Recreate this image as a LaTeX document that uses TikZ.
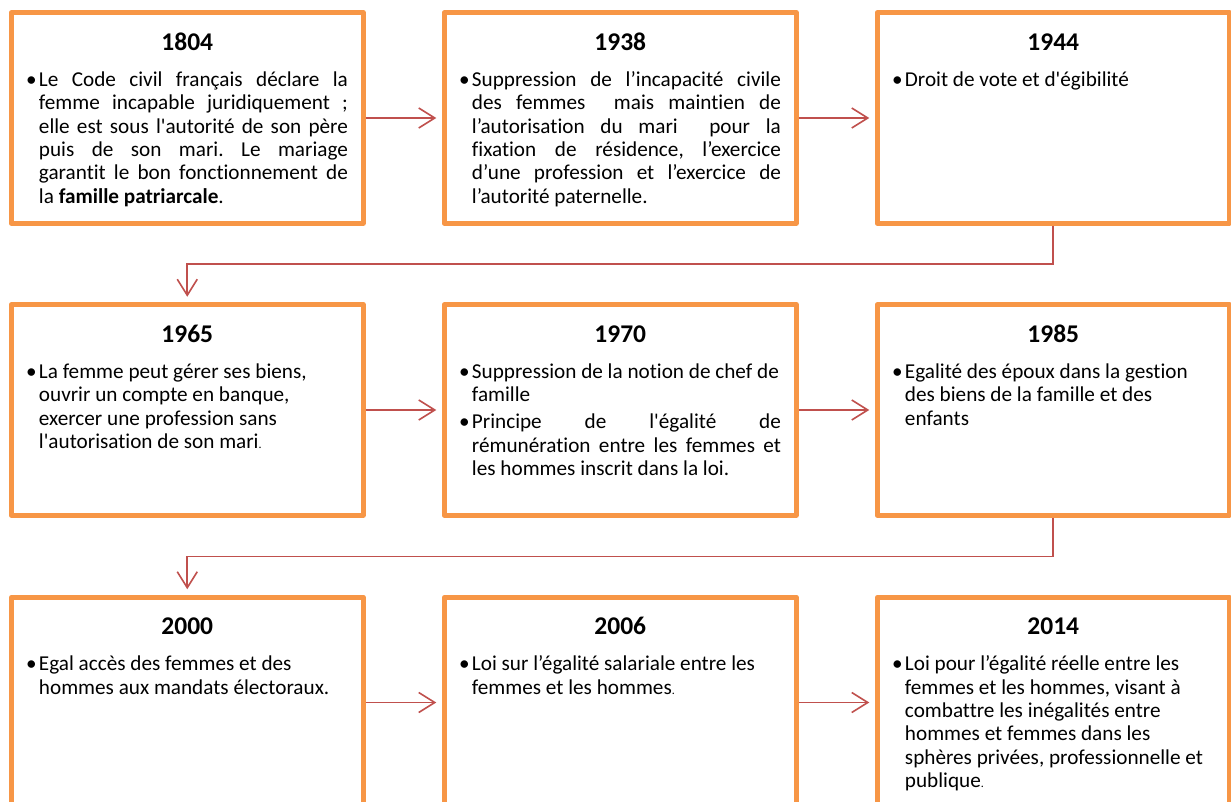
\documentclass[tikz,border=0pt]{standalone}
\usepackage{fontspec}
\newfontfamily\carlito{Carlito}[Ligatures={NoCommon}]
\usetikzlibrary{arrows.meta}
\definecolor{boxorange}{HTML}{F79646}
\definecolor{arrred}{HTML}{C0504D}
\newcommand{\bodyfont}{\fontsize{21.2}{23.4}\selectfont}
\newcommand{\yearfont}{\fontsize{25.5}{28}\selectfont\bfseries}
\newlength{\bulhang}\setlength{\bulhang}{12.8pt}
\newcommand{\bitem}[1]{\hangindent=\bulhang\hangafter=1\noindent\makebox[\bulhang][l]{\textbullet}#1\par}
\newcommand{\bitemR}[1]{{\rightskip=0pt plus 1fil\relax\bitem{#1}}}
\newcommand{\bodypar}[1]{\parbox[t]{321.8pt}{\frenchspacing\hyphenpenalty=10000\exhyphenpenalty=10000\tolerance=10000\hbadness=10000\emergencystretch=0pt #1}}
\newcommand{\smdot}{{\fontsize{12}{12}\selectfont .}}
\newcommand{\nl}{\hfil\break}
\begin{document}
\begin{tikzpicture}[x=1pt,y=1pt,
  yearbox/.style={draw=boxorange, line width=5pt, line join=round, fill=white,
    minimum width=352pt, minimum height=210.5pt, inner sep=0pt, outer sep=2.5pt},
  yeartitle/.style={anchor=base, inner sep=0pt, font=\carlito\yearfont},
  bodytext/.style={anchor=base west, inner sep=0pt, font=\carlito\bodyfont},
  conn/.style={draw=arrred, line width=1.6pt, -{Straight Barb[length=16pt,width=20pt]}, shorten >=5.5pt}]
\path[use as bounding box] (0,0) rectangle (1231,-802);
\clip (0,0) rectangle (1231,-802);
\fill[white] (0,0) rectangle (1231,-802);
% boxes
\node[yearbox] (b1) at (187.25,-118) {};
\node[yearbox] (b2) at (620.25,-118) {};
\node[yearbox] (b3) at (1053.25,-118) {};
\node[yearbox] (b4) at (187.25,-410) {};
\node[yearbox] (b5) at (620.25,-410) {};
\node[yearbox] (b6) at (1053.25,-410) {};
\node[yearbox] (b7) at (187.25,-702.5) {};
\node[yearbox] (b8) at (620.25,-702.5) {};
\node[yearbox] (b9) at (1053.25,-702.5) {};
% titles
\foreach \b/\y in {b1/1804,b2/1938,b3/1944,b4/1965,b5/1970,b6/1985,b7/2000,b8/2006,b9/2014}
  \node[yeartitle] (y\b) at ([yshift=-40pt]\b.north) {\y};
% bodies
\node[bodytext] (t1) at ([xshift=17.2pt,yshift=-76pt]b1.north west) {\bodypar{\bitem{Le Code civil français déclare la\linebreak femme incapable juridiquement ;\linebreak elle est sous l'autorité de son père\linebreak puis de son mari. Le mariage\linebreak garantit le bon fonctionnement de\linebreak la \textbf{famille patriarcale}.}}};
\node[bodytext] (t2) at ([xshift=17.2pt,yshift=-76pt]b2.north west) {\bodypar{\bitem{Suppression de l’incapacité civile\linebreak des femmes \ mais maintien de\linebreak l’autorisation du mari \ pour la\linebreak fixation de résidence, l’exercice\linebreak d’une profession et l’exercice de\linebreak l’autorité paternelle.}}};
\node[bodytext] (t3) at ([xshift=17.2pt,yshift=-76pt]b3.north west) {\bodypar{\bitemR{Droit de vote et d'égibilité}}};
\node[bodytext] (t4) at ([xshift=17.2pt,yshift=-76pt]b4.north west) {\bodypar{\bitemR{La femme peut gérer ses biens,\nl ouvrir un compte en banque,\nl exercer une profession sans\nl l'autorisation de son mari\smdot}}};
\node[bodytext] (t5) at ([xshift=17.2pt,yshift=-76pt]b5.north west) {\bodypar{\bitemR{Suppression de la notion de chef de\nl famille}\vspace{3.6pt}\bitem{Principe de l'égalité de\linebreak rémunération entre les femmes et\linebreak les hommes inscrit dans la loi.}}};
\node[bodytext] (t6) at ([xshift=17.2pt,yshift=-76pt]b6.north west) {\bodypar{\bitemR{Egalité des époux dans la gestion\nl des biens de la famille et des\nl enfants}}};
\node[bodytext] (t7) at ([xshift=17.2pt,yshift=-76pt]b7.north west) {\bodypar{\bitemR{Egal accès des femmes et des\nl hommes aux mandats électoraux.}}};
\node[bodytext] (t8) at ([xshift=17.2pt,yshift=-76pt]b8.north west) {\bodypar{\bitemR{Loi sur l’égalité salariale entre les\nl femmes et les hommes\smdot}}};
\node[bodytext] (t9) at ([xshift=17.2pt,yshift=-76pt]b9.north west) {\bodypar{\bitemR{Loi pour l’égalité réelle entre les\nl femmes et les hommes, visant à\nl combattre les inégalités entre\nl hommes et femmes dans les\nl sphères privées, professionnelle et\nl publique\smdot}}};
% connectors
\draw[conn] (b1.east) -- (b2.west);
\draw[conn] (b2.east) -- (b3.west);
\draw[conn] (b3.south) -- ++(0,-38.3) -| (b4.north);
\draw[conn] (b4.east) -- (b5.west);
\draw[conn] (b5.east) -- (b6.west);
\draw[conn] (b6.south) -- ++(0,-38.7) -| (b7.north);
\draw[conn] (b7.east) -- (b8.west);
\draw[conn] (b8.east) -- (b9.west);
\end{tikzpicture}
\end{document}
